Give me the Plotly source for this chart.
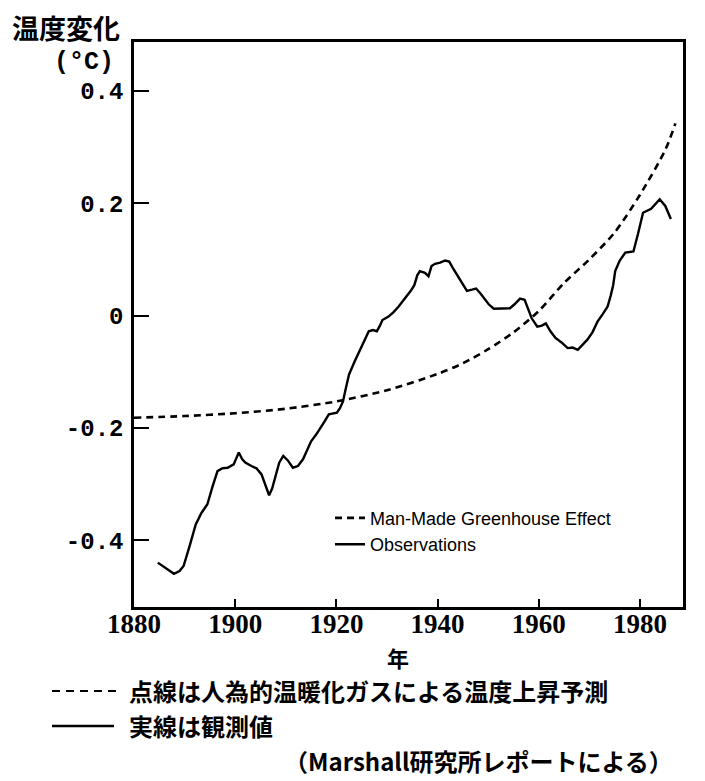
import plotly.graph_objects as go

# ---- data ----
model_years = [1880, 1890, 1900, 1910, 1920, 1930, 1940, 1945, 1950, 1955,
               1960, 1965, 1970, 1975, 1980, 1985, 1987]
model_vals = [-0.182, -0.179, -0.174, -0.166, -0.153, -0.133, -0.104, -0.085,
              -0.060, -0.030, 0.008, 0.058, 0.100, 0.148, 0.215, 0.295, 0.342]

obs_years = [1884.7, 1886.5, 1887.9, 1889.0, 1889.8, 1891.0, 1892.2, 1893.3, 1894.5, 1895.5,
             1896.5, 1897.5, 1898.5, 1899.7, 1900.7, 1901.4, 1902.0, 1903.2, 1904.2, 1905.2,
             1906.0, 1906.7, 1907.3, 1907.9, 1908.7, 1909.5, 1910.4, 1911.4, 1912.4, 1913.4,
             1914.2, 1915.0, 1916.0, 1916.9, 1917.7, 1918.5, 1920.1, 1920.7, 1921.3, 1921.9,
             1922.5, 1923.6, 1924.4, 1925.2, 1925.8, 1926.4, 1927.2, 1928.0, 1928.6, 1929.1,
             1930.3, 1931.3, 1932.3, 1933.1, 1933.9, 1934.7, 1935.4, 1936.0, 1936.5, 1937.5,
             1938.2, 1938.8, 1939.5, 1940.5, 1941.5, 1942.3, 1943.0, 1944.0, 1945.0, 1945.8,
             1946.8, 1947.6, 1948.4, 1949.2, 1950.1, 1951.1, 1952.5, 1954.3, 1955.2, 1956.3,
             1957.2, 1957.9, 1958.6, 1959.7, 1960.6, 1961.4, 1962.3, 1963.3, 1964.5, 1965.7,
             1966.7, 1967.7, 1968.6, 1969.6, 1970.6, 1971.6, 1972.6, 1973.6, 1974.2, 1974.7,
             1975.1, 1976.0, 1977.1, 1978.7, 1979.6, 1980.6, 1982.2, 1983.9, 1985.0, 1986.1]
obs_vals = [-0.440, -0.452, -0.460, -0.455, -0.446, -0.410, -0.372, -0.352, -0.336, -0.305,
            -0.277, -0.272, -0.271, -0.265, -0.244, -0.256, -0.262, -0.268, -0.272, -0.283,
            -0.305, -0.320, -0.308, -0.289, -0.262, -0.250, -0.258, -0.271, -0.268, -0.256,
            -0.240, -0.224, -0.212, -0.200, -0.188, -0.176, -0.173, -0.165, -0.153, -0.128,
            -0.105, -0.082, -0.066, -0.052, -0.040, -0.028, -0.026, -0.028, -0.018, -0.008,
            -0.002, 0.006, 0.016, 0.025, 0.034, 0.044, 0.054, 0.072, 0.079, 0.076,
            0.070, 0.088, 0.092, 0.094, 0.098, 0.096, 0.085, 0.070, 0.055, 0.044,
            0.046, 0.048, 0.040, 0.031, 0.020, 0.012, 0.012, 0.013, 0.020, 0.030,
            0.028, 0.012, -0.005, -0.020, -0.018, -0.014, -0.028, -0.040, -0.048, -0.058,
            -0.057, -0.061, -0.052, -0.043, -0.030, -0.011, 0.002, 0.016, 0.035, 0.054,
            0.079, 0.098, 0.112, 0.114, 0.145, 0.183, 0.190, 0.207, 0.195, 0.172]

x_tickvals = [1880, 1900, 1920, 1940, 1960, 1980]
x_ticktext = ["1880", "1900", "1920", "1940", "1960", "1980"]
y_tickvals = [0.4, 0.2, 0, -0.2, -0.4]
y_ticktext = ["0.4", "0.2", "0", "-0.2", "-0.4"]

legend_model = "Man-Made Greenhouse Effect"
legend_obs = "Observations"
y_title = "温度変化"
y_unit = "(°C)"
x_title = "年"
caption1 = "点線は人為的温暖化ガスによる温度上昇予測"
caption2 = "実線は観測値"
caption3 = "（Marshall研究所レポートによる）"

JP = "Noto Sans CJK JP"
MONO = "Liberation Mono"
SERIF = "Liberation Serif"

# the page body has an 8px margin, so the figure is 8px smaller on each axis
PAGE_OFF = 8
W, H = 705 - PAGE_OFF, 781 - PAGE_OFF

fig = go.Figure()
fig.add_trace(go.Scatter(
    x=model_years, y=model_vals, mode="lines", name=legend_model,
    line=dict(color="black", width=2.6, dash="7px,5px", shape="spline", smoothing=0.8),
))
fig.add_trace(go.Scatter(
    x=obs_years, y=obs_vals, mode="lines", name=legend_obs,
    line=dict(color="black", width=2.4),
))

fig.update_layout(
    width=W, height=H,
    margin=dict(l=134 - PAGE_OFF, r=22, t=42 - PAGE_OFF, b=174),
    paper_bgcolor="white", plot_bgcolor="white",
    showlegend=True,
    legend=dict(
        x=0.357, y=0.19, xanchor="left", yanchor="top",
        bgcolor="rgba(0,0,0,0)", borderwidth=0,
        font=dict(family="Liberation Sans", size=18, color="black"),
        tracegroupgap=0, itemwidth=30,
    ),
    xaxis=dict(
        range=[1880, 1988.5], showgrid=False, zeroline=False,
        showline=True, linecolor="black", linewidth=2.5, mirror=True,
        ticks="inside", ticklen=8, tickwidth=2, tickcolor="black",
        tickvals=x_tickvals, ticktext=x_ticktext,
        tickfont=dict(family=SERIF, size=27, color="black", weight="bold"),
        ticklabelstandoff=-9,
    ),
    yaxis=dict(
        range=[-0.519, 0.487], showgrid=False, zeroline=False,
        showline=True, linecolor="black", linewidth=2.5, mirror=True,
        ticks="inside", ticklen=15, tickwidth=2, tickcolor="black",
        tickvals=y_tickvals, ticktext=y_ticktext,
        tickfont=dict(family=MONO, size=24, color="black", weight="bold"),
        ticklabelstandoff=3,
    ),
)

# helpers: page pixel -> paper coordinate (plot area spans x 134..683, y 42..607)
def px_x(p):
    return (p - 134) / 549.0

def px_y(p):
    return (607 - p) / 565.0

anns = [
    dict(text=y_title, x=px_x(10), y=px_y(28), xanchor="left", yanchor="middle",
         font=dict(family=JP, size=27, weight="bold")),
    dict(text=y_unit, x=px_x(116), y=px_y(62), xanchor="right", yanchor="middle",
         font=dict(family=MONO, size=25, weight="bold")),
    dict(text=x_title, x=px_x(398), y=px_y(657), xanchor="center", yanchor="middle",
         font=dict(family=JP, size=22, weight="bold")),
    dict(text=caption1, x=px_x(127), y=px_y(690.5), xanchor="left", yanchor="middle",
         font=dict(family=JP, size=24, weight="bold")),
    dict(text=caption2, x=px_x(127), y=px_y(725.5), xanchor="left", yanchor="middle",
         font=dict(family=JP, size=24, weight="bold")),
    dict(text=caption3, x=px_x(478), y=px_y(760.5), xanchor="center", yanchor="middle",
         font=dict(family=JP, size=24, weight="bold")),
]
for a in anns:
    a.update(xref="paper", yref="paper", showarrow=False)
    a["font"]["color"] = "black"
fig.update_layout(annotations=anns)

fig.add_shape(type="line", xref="paper", yref="paper",
              x0=px_x(52), x1=px_x(118), y0=px_y(691), y1=px_y(691),
              line=dict(color="black", width=2, dash="8px,6px"))
fig.add_shape(type="line", xref="paper", yref="paper",
              x0=px_x(52), x1=px_x(114), y0=px_y(726), y1=px_y(726),
              line=dict(color="black", width=2.5))

fig.write_html("out.html")
